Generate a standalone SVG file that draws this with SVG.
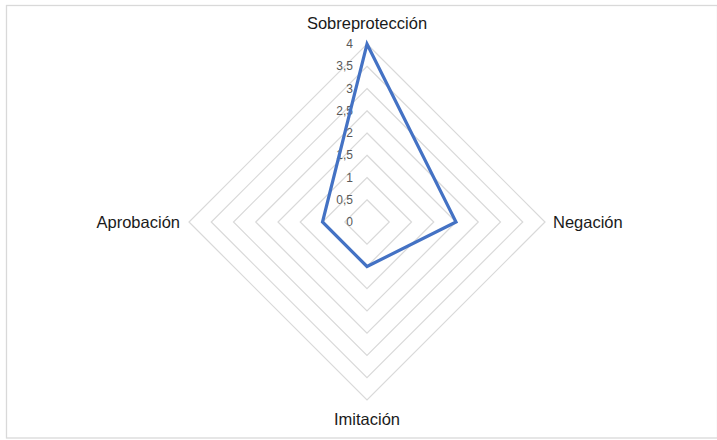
<svg xmlns="http://www.w3.org/2000/svg" width="717" height="440" viewBox="0 0 717 440">
<style>
.grid{fill:none;stroke:#d9d9d9;stroke-width:1.2}
.tick{font-family:"Liberation Sans",Arial,sans-serif;font-size:12px;fill:#595959;text-anchor:end}
.cat{font-family:"Liberation Sans",Arial,sans-serif;font-size:16.5px;fill:#1a1a1a}
.series{fill:none;stroke:#4472c4;stroke-width:3.2;stroke-linejoin:miter}
</style>
<rect x="0" y="0" width="717" height="440" fill="#ffffff"/>
<rect x="6.5" y="5.5" width="711" height="432.5" fill="none" stroke="#d9d9d9" stroke-width="1.3"/>
<g id="grid">
<polygon class="grid" points="367,199.75 389.25,222 367,244.25 344.75,222"/>
<polygon class="grid" points="367,177.5 411.5,222 367,266.5 322.5,222"/>
<polygon class="grid" points="367,155.25 433.75,222 367,288.75 300.25,222"/>
<polygon class="grid" points="367,133 456,222 367,311 278,222"/>
<polygon class="grid" points="367,110.75 478.25,222 367,333.25 255.75,222"/>
<polygon class="grid" points="367,88.5 500.5,222 367,355.5 233.5,222"/>
<polygon class="grid" points="367,66.25 522.75,222 367,377.75 211.25,222"/>
<polygon class="grid" points="367,44 545,222 367,400 189,222"/>
</g>
<g id="ticks">
<text class="tick" x="353" y="226">0</text>
<text class="tick" x="353" y="203.75">0,5</text>
<text class="tick" x="353" y="181.5">1</text>
<text class="tick" x="353" y="159.25">1,5</text>
<text class="tick" x="353" y="137">2</text>
<text class="tick" x="353" y="114.75">2,5</text>
<text class="tick" x="353" y="92.5">3</text>
<text class="tick" x="353" y="70.25">3,5</text>
<text class="tick" x="353" y="48">4</text>
</g>
<g id="connectors">
<polygon id="series" class="series" points="367,44 456,222 367,266.5 322.5,222"/>
</g>
<g id="node-sobreproteccion"><text class="cat" x="367" y="29" text-anchor="middle">Sobreprotección</text></g>
<g id="node-negacion"><text class="cat" x="553" y="228" text-anchor="start">Negación</text></g>
<g id="node-imitacion"><text class="cat" x="367" y="425" text-anchor="middle">Imitación</text></g>
<g id="node-aprobacion"><text class="cat" x="180" y="228" text-anchor="end">Aprobación</text></g>
</svg>
